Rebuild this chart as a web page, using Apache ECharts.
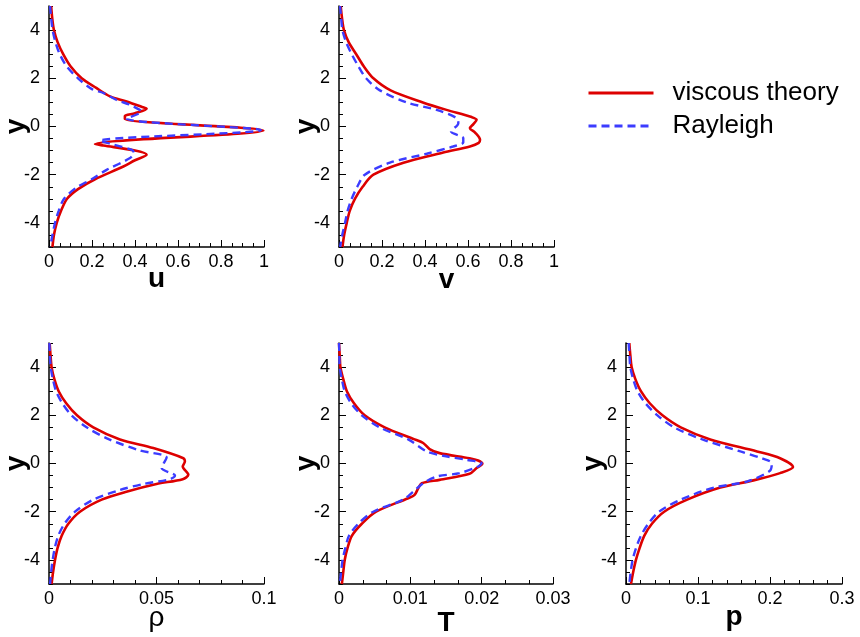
<!DOCTYPE html>
<html>
<head>
<meta charset="utf-8">
<script src="https://cdn.jsdelivr.net/npm/echarts@6/dist/echarts.min.js"></script>
<style>html,body{margin:0;padding:0;background:#fff}#c{width:860px;height:637px}</style>
</head>
<body>
<div id="c"></div>
<script>
// ---- data: [value, y] pairs ----
const uViscous = [[0.010,5],[0.015,4.5],[0.023,4],[0.040,3.5],[0.066,3],[0.10,2.5],[0.152,2],[0.22,1.6],[0.284,1.25],[0.361,1.04],[0.43,0.82],[0.454,0.735],[0.40,0.55],[0.353,0.44],[0.353,0.31],[0.997,-0.165],[0.214,-0.73],[0.253,-0.79],[0.40,-1.0],[0.454,-1.175],[0.40,-1.4],[0.346,-1.66],[0.214,-2.19],[0.135,-2.6],[0.084,-3.0],[0.056,-3.5],[0.036,-4],[0.023,-4.5],[0.016,-5]];
const uRayleigh = [[0.005,5],[0.010,4.5],[0.017,4],[0.030,3.5],[0.05,3],[0.082,2.5],[0.135,2],[0.20,1.55],[0.253,1.39],[0.315,1.1],[0.377,0.90],[0.42,0.7],[0.43,0.62],[0.36,0.33],[0.985,-0.15],[0.237,-0.59],[0.30,-0.75],[0.385,-0.97],[0.395,-1.1],[0.377,-1.31],[0.268,-1.8],[0.198,-2.19],[0.125,-2.55],[0.07,-3.0],[0.045,-3.5],[0.028,-4],[0.016,-4.5],[0.006,-5]];
const vViscous = [[0.008,5],[0.014,4.5],[0.023,4],[0.045,3.5],[0.08,3],[0.115,2.5],[0.16,2],[0.24,1.5],[0.39,1.0],[0.50,0.69],[0.617,0.39],[0.64,0.28],[0.625,0.1],[0.609,-0.07],[0.633,-0.25],[0.656,-0.55],[0.65,-0.68],[0.609,-0.83],[0.485,-1.08],[0.30,-1.5],[0.16,-2],[0.11,-2.5],[0.074,-3],[0.05,-3.5],[0.036,-4],[0.024,-4.5],[0.016,-5]];
const vRayleigh = [[0.005,5],[0.010,4.5],[0.016,4],[0.033,3.5],[0.059,3],[0.09,2.5],[0.126,2],[0.19,1.5],[0.315,1.0],[0.454,0.69],[0.547,0.35],[0.555,0.14],[0.521,-0.21],[0.578,-0.48],[0.578,-0.66],[0.53,-0.83],[0.408,-1.13],[0.237,-1.5],[0.12,-2],[0.085,-2.5],[0.059,-3],[0.04,-3.5],[0.028,-4],[0.015,-4.5],[0.005,-5]];
const rhoViscous = [[0.0003,5],[0.0007,4.5],[0.0012,4],[0.0025,3.5],[0.0045,3],[0.0080,2.5],[0.013,2],[0.0206,1.5],[0.033,1],[0.0485,0.64],[0.0625,0.22],[0.0632,0.08],[0.0622,-0.125],[0.0648,-0.47],[0.0622,-0.65],[0.050,-0.85],[0.036,-1.17],[0.0245,-1.5],[0.0144,-2],[0.0090,-2.5],[0.0059,-3],[0.0040,-3.5],[0.0028,-4],[0.0019,-4.5],[0.0012,-5]];
const rhoRayleigh = [[0.0002,5],[0.0004,4.5],[0.0008,4],[0.0018,3.5],[0.0033,3],[0.0062,2.5],[0.0105,2],[0.0175,1.5],[0.028,1],[0.0423,0.54],[0.0547,0.25],[0.0524,-0.19],[0.0586,-0.5],[0.0563,-0.65],[0.0439,-0.85],[0.033,-1.1],[0.0206,-1.5],[0.0121,-2],[0.0072,-2.5],[0.0043,-3],[0.0027,-3.5],[0.0017,-4],[0.0010,-4.5],[0.0005,-5]];
const tViscous = [[0.0000,5],[0.0001,4.5],[0.0002,4],[0.0006,3.5],[0.0011,3],[0.0021,2.5],[0.0036,2],[0.0064,1.5],[0.0106,1],[0.0118,0.85],[0.0127,0.6],[0.0141,0.43],[0.0183,0.22],[0.0195,0.125],[0.0201,-0.01],[0.0193,-0.19],[0.0183,-0.43],[0.0141,-0.68],[0.0116,-0.82],[0.0111,-1.03],[0.0106,-1.3],[0.0097,-1.44],[0.0052,-2],[0.0032,-2.5],[0.0018,-3],[0.0012,-3.5],[0.0008,-4],[0.0006,-4.5],[0.0004,-5]];
const tRayleigh = [[0.0000,5],[0.00005,4.5],[0.0001,4],[0.0004,3.5],[0.0008,3],[0.0017,2.5],[0.0032,2],[0.0057,1.5],[0.0097,1],[0.0123,0.5],[0.0146,0.32],[0.0179,0.15],[0.020,0.01],[0.0195,-0.125],[0.0169,-0.4],[0.0137,-0.54],[0.0118,-0.82],[0.0104,-1.17],[0.009,-1.5],[0.0048,-2],[0.0027,-2.5],[0.0014,-3],[0.0009,-3.5],[0.0005,-4],[0.0003,-4.5],[0.0001,-5]];
const pViscous = [[0.0046,5],[0.006,4.5],[0.0078,4],[0.013,3.5],[0.0207,3],[0.033,2.5],[0.0506,2],[0.076,1.5],[0.117,1],[0.182,0.5],[0.214,0.22],[0.232,-0.15],[0.214,-0.4],[0.177,-0.7],[0.131,-1],[0.085,-1.5],[0.053,-2],[0.036,-2.5],[0.0253,-3],[0.019,-3.5],[0.0138,-4],[0.010,-4.5],[0.0069,-5]];
const pRayleigh = [[0.0037,5],[0.0048,4.5],[0.006,4],[0.010,3.5],[0.016,3],[0.027,2.5],[0.0437,2],[0.0667,1.5],[0.106,1],[0.159,0.5],[0.19,0.2],[0.2025,0.01],[0.2,-0.3],[0.168,-0.75],[0.122,-1],[0.076,-1.5],[0.046,-2],[0.031,-2.5],[0.0207,-3],[0.014,-3.5],[0.0092,-4],[0.0065,-4.5],[0.0046,-5]];

const seriesNames = ['viscous theory', 'Rayleigh'];
const xNames = ['u', 'v', 'ρ', 'T', 'p'];
const xMaxes = [1, 1, 0.1, 0.03, 0.3];
const xIntervals = [0.2, 0.2, 0.05, 0.01, 0.1];
const yName = 'y';

const FONT = "'Liberation Sans', Arial, sans-serif";
const RED = '#dd0000';
const BLUE = '#3c3cff';

const panels = [
  {box: [49, 6, 215, 241], red: uViscous, blue: uRayleigh, bold: true, minor: 4, gap: 18},
  {box: [339, 6, 215, 241], red: vViscous, blue: vRayleigh, bold: true, minor: 4, gap: 19},
  {box: [49, 343, 215, 241], red: rhoViscous, blue: rhoRayleigh, bold: false, minor: 5, gap: 20},
  {box: [339, 343, 214, 241], red: tViscous, blue: tRayleigh, bold: true, minor: 3, gap: 25},
  {box: [626, 343, 216, 241], red: pViscous, blue: pRayleigh, bold: true, minor: 5, gap: 19}
];

const grid = [], xAxis = [], yAxis = [], series = [];
panels.forEach((p, i) => {
  grid.push({left: p.box[0], top: p.box[1], width: p.box[2], height: p.box[3], outerBoundsMode: 'none'});
  xAxis.push({
    type: 'value', gridIndex: i, min: 0, max: xMaxes[i], interval: xIntervals[i],
    name: xNames[i], nameLocation: 'middle', nameGap: p.gap, nameMoveOverlap: false,
    nameTextStyle: {fontFamily: FONT, fontSize: 28, fontWeight: p.bold ? 'bold' : 'normal', color: '#000'},
    axisLine: {show: true, onZero: false, lineStyle: {color: '#000', width: 1.5}},
    axisTick: {show: true, inside: true, length: 7, lineStyle: {color: '#000', width: 1}},
    minorTick: {show: true, splitNumber: p.minor, length: 4, lineStyle: {color: '#000', width: 1}},
    axisLabel: {fontFamily: FONT, fontSize: 18, color: '#000', margin: 6},
    splitLine: {show: false}
  });
  // major y axis (labels + long ticks)
  yAxis.push({
    type: 'value', gridIndex: i, min: -5, max: 5, position: 'left',
    name: yName, nameLocation: 'middle', nameGap: 19, nameRotate: 90, nameMoveOverlap: false,
    nameTextStyle: {fontFamily: FONT, fontSize: 28, fontWeight: 'bold', color: '#000'},
    axisLine: {show: true, onZero: false, lineStyle: {color: '#000', width: 1.5}},
    axisTick: {show: true, inside: true, length: 7, lineStyle: {color: '#000', width: 1}},
    axisLabel: {fontFamily: FONT, fontSize: 18, color: '#000', margin: 9, showMinLabel: false, showMaxLabel: false},
    splitLine: {show: false}
  });
  // minor y ticks every 0.5
  yAxis.push({
    type: 'value', gridIndex: i, min: -5, max: 5, interval: 0.5, position: 'left',
    axisLine: {show: false, onZero: false},
    axisTick: {show: true, inside: true, length: 4, lineStyle: {color: '#000', width: 1}},
    axisLabel: {show: false},
    splitLine: {show: false}
  });
  series.push({
    name: seriesNames[0], type: 'line', xAxisIndex: i, yAxisIndex: 2 * i,
    data: p.red, symbol: 'none', smooth: 0.3,
    lineStyle: {color: RED, width: 2.6}, itemStyle: {color: RED}, z: 3
  });
  series.push({
    name: seriesNames[1], type: 'line', xAxisIndex: i, yAxisIndex: 2 * i,
    data: p.blue, symbol: 'none', smooth: 0.3,
    lineStyle: {color: BLUE, width: 2.4, type: [8, 5]}, itemStyle: {color: BLUE}, z: 4
  });
});

const chart = echarts.init(document.getElementById('c'), null, {renderer: 'canvas'});
chart.setOption({
  animation: false,
  backgroundColor: '#fff',
  grid, xAxis, yAxis, series,
  legend: {
    data: seriesNames, orient: 'vertical', left: 587, top: 80, padding: 0,
    itemWidth: 65, itemHeight: 14, itemGap: 7,
    itemStyle: {opacity: 0},
    lineStyle: {width: 3},
    textStyle: {fontFamily: FONT, fontSize: 26, color: '#000', lineHeight: 26, padding: [0, 0, 0, 14]}
  }
});
</script>
</body>
</html>
